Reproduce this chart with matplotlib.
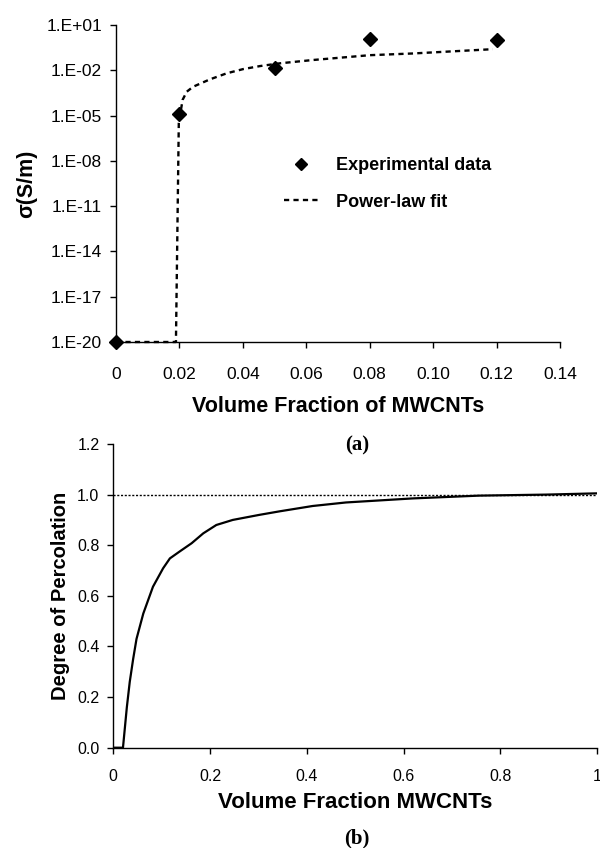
import math

import matplotlib

matplotlib.use("Agg")
import matplotlib.pyplot as plt
from matplotlib.ticker import FixedLocator, FuncFormatter

plt.rcParams["font.family"] = ["Liberation Sans", "DejaVu Sans"]

# (a) conductivity vs volume fraction
exp_phi = [0.0, 0.02, 0.05, 0.08, 0.12]
exp_sigma = [1e-20, 1.3e-5, 1.35e-2, 1.1, 0.97]

fit_phi = [0.0, 0.0189, 0.0198, 0.0210, 0.0223, 0.0243, 0.0296, 0.0349, 0.0401,
           0.0454, 0.0517, 0.0621, 0.0800, 0.0936, 0.1188]
fit_sigma = [1e-20, 1e-20, 3.2e-6, 1.1e-4, 3.8e-4, 8.1e-4, 2.5e-3, 6.3e-3, 1.2e-2,
             1.9e-2, 2.9e-2, 4.8e-2, 0.10, 0.13, 0.25]

top_xticks = [0, 0.02, 0.04, 0.06, 0.08, 0.10, 0.12, 0.14]
top_xlabels = ["0", "0.02", "0.04", "0.06", "0.08", "0.10", "0.12", "0.14"]
top_yticks = [1e-20, 1e-17, 1e-14, 1e-11, 1e-8, 1e-5, 1e-2, 1e1]

# (b) degree of percolation
perc_phi = [0.0, 0.020, 0.024, 0.028, 0.034, 0.041, 0.048, 0.062, 0.082, 0.103, 0.117,
            0.137, 0.162, 0.186, 0.213, 0.247, 0.302, 0.344, 0.412, 0.481, 0.619,
            0.756, 0.894, 1.0]
perc_deg = [0.0, 0.0, 0.08, 0.16, 0.26, 0.35, 0.43, 0.53, 0.636, 0.709, 0.748,
            0.775, 0.808, 0.847, 0.880, 0.90, 0.920, 0.934, 0.955, 0.969, 0.985,
            0.996, 1.0, 1.005]

bot_xticks = [0, 0.2, 0.4, 0.6, 0.8, 1.0]
bot_xlabels = ["0", "0.2", "0.4", "0.6", "0.8", "1"]
bot_yticks = [0.0, 0.2, 0.4, 0.6, 0.8, 1.0, 1.2]


def style_axes(ax, xpad, size):
    for side in ("top", "right"):
        ax.spines[side].set_visible(False)
    for side in ("left", "bottom"):
        ax.spines[side].set_linewidth(1.0)
    ax.tick_params(axis="x", direction="out", length=4, width=1, pad=xpad, labelsize=size)
    ax.tick_params(axis="y", direction="out", length=4, width=1, pad=6, labelsize=size)
    ax.tick_params(which="minor", length=0)


fig = plt.figure(figsize=(6.0, 8.48), dpi=100)

ax1 = fig.add_axes([116 / 600, 1 - 342 / 848, 444 / 600, 317 / 848])
ax1.plot(fit_phi, fit_sigma, color="black", lw=1.7, linestyle=(0, (2.2, 1.8)),
         label="Power-law fit", clip_on=False)
ax1.plot(exp_phi, exp_sigma, linestyle="none", marker="D", ms=6.8, color="black",
         label="Experimental data", clip_on=False, zorder=5)
ax1.set_yscale("log")
ax1.set_xlim(0, 0.14)
ax1.set_ylim(1e-20, 1e1)
ax1.xaxis.set_major_locator(FixedLocator(top_xticks))
ax1.set_xticklabels(top_xlabels)
ax1.yaxis.set_major_locator(FixedLocator(top_yticks))
ax1.yaxis.set_major_formatter(FuncFormatter(lambda v, p: f"1.E{round(math.log10(v)):+03d}"))
ax1.yaxis.set_minor_locator(FixedLocator([]))
style_axes(ax1, 14, 12.5)
ax1.set_xlabel("Volume Fraction of MWCNTs", fontsize=15.5, fontweight="bold", labelpad=10)
ax1.set_ylabel("σ(S/m)", fontsize=15.5, fontweight="bold", labelpad=7)
handles, labels = ax1.get_legend_handles_labels()
leg = ax1.legend(handles[::-1], labels[::-1], frameon=False, loc="upper left",
                 bbox_to_anchor=(0.342, 0.634), fontsize=13, handlelength=1.9,
                 handletextpad=0.95, labelspacing=1.08, markerscale=0.85)
for t in leg.get_texts():
    t.set_fontweight("bold")

ax2 = fig.add_axes([113.3 / 600, 1 - 747.7 / 848, 483.7 / 600, 303.7 / 848])
ax2.axhline(1.0, color="black", lw=1.0, linestyle=(0, (1.5, 1.2)))
ax2.plot(perc_phi, perc_deg, color="black", lw=1.6)
ax2.set_xlim(0, 1)
ax2.set_ylim(0, 1.2)
ax2.xaxis.set_major_locator(FixedLocator(bot_xticks))
ax2.set_xticklabels(bot_xlabels)
ax2.yaxis.set_major_locator(FixedLocator(bot_yticks))
ax2.set_yticklabels([f"{v:.1f}" for v in bot_yticks])
style_axes(ax2, 11, 11.5)
ax2.set_xlabel("Volume Fraction MWCNTs", fontsize=16, fontweight="bold", labelpad=6)
ax2.set_ylabel("Degree of Percolation", fontsize=14.5, fontweight="bold", labelpad=5)

fig.text(357 / 600, 1 - 445 / 848, "(a)", family=["Liberation Serif", "DejaVu Serif"],
         fontsize=15, fontweight="bold", ha="center", va="center")
fig.text(357 / 600, 1 - 838 / 848, "(b)", family=["Liberation Serif", "DejaVu Serif"],
         fontsize=15, fontweight="bold", ha="center", va="center")

fig.savefig("out.png", dpi=100)
